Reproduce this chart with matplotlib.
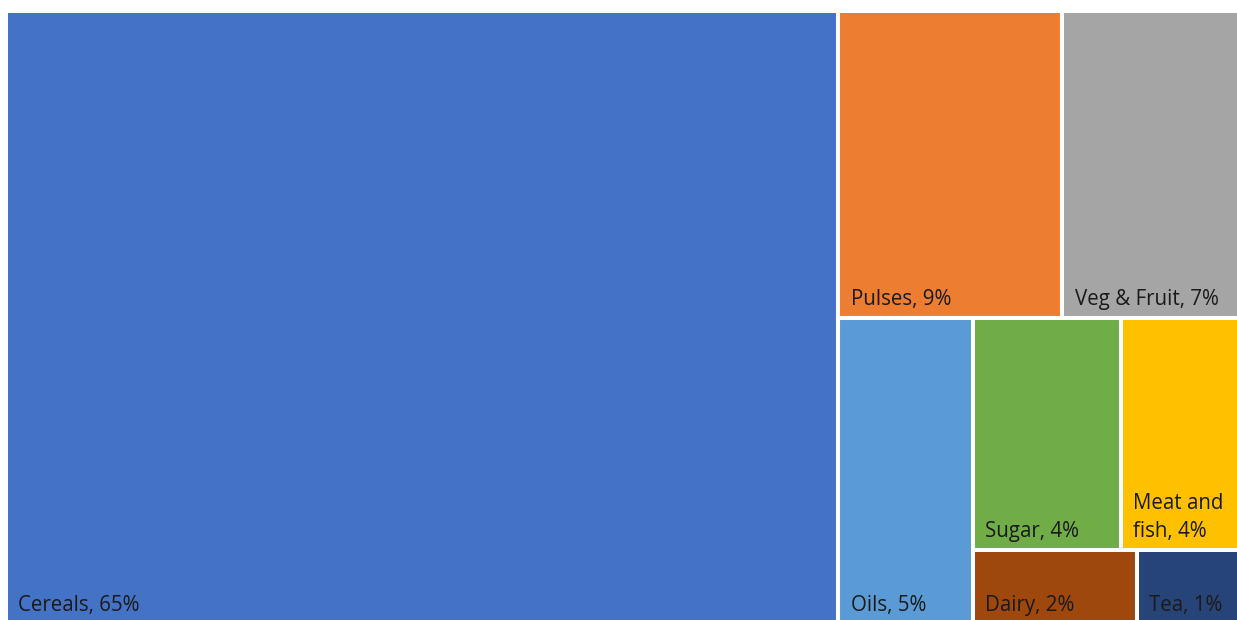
#!/usr/bin/env python3
import matplotlib
matplotlib.use('Agg')
import matplotlib.pyplot as plt
from matplotlib.patches import Rectangle

# Share of food spend (labels are rounded)
categories = ['Cereals', 'Pulses', 'Veg & Fruit', 'Oils', 'Sugar',
              'Meat and fish', 'Dairy', 'Tea']
values = [65.4, 8.8, 7.3, 5.3, 4.4, 3.8, 1.55, 1.05]
colors = ['#4472C4', '#ED7D31', '#A5A5A5', '#5B9BD5', '#70AD47',
          '#FFC000', '#9E480E', '#264478']
label_text = ['Cereals', 'Pulses', 'Veg & Fruit', 'Oils', 'Sugar',
              'Meat and\nfish', 'Dairy', 'Tea']

# slice layout: ('h'|'v', children), leaves are category indices
layout = ('h', [0, ('v', [('h', [1, 2]),
                          ('h', [3, ('v', [('h', [4, 5]),
                                           ('h', [6, 7])])])])])


def total(node):
    if isinstance(node, int):
        return values[node]
    return sum(total(c) for c in node[1])


def place(node, x, y, w, h, out):
    """Split the rect (x, y = top-left, y going down) among children."""
    if isinstance(node, int):
        out[node] = (x, y, w, h)
        return
    direction, children = node
    s = total(node)
    for c in children:
        f = total(c) / s
        if direction == 'h':
            place(c, x, y, w * f, h, out)
            x += w * f
        else:
            place(c, x, y, w, h * f, out)
            y += h * f


rects = {}
place(layout, 0.0, 0.0, 1.0, 1.0, rects)

W, H = 1237, 620
fig = plt.figure(figsize=(W / 100, H / 100), dpi=100)
# treemap area runs a bit past the right and bottom edges (cropped)
ax = fig.add_axes([6 / W, -4 / H, 1242 / W, 613 / H])
ax.set_xlim(0, 1)
ax.set_ylim(1, 0)
ax.axis('off')

for i, name in enumerate(categories):
    x, y, w, h = rects[i]
    ax.add_patch(Rectangle((x, y), w, h, facecolor=colors[i],
                           edgecolor='white', linewidth=2.9))
    ax.annotate(f'{label_text[i]}, {values[i]:.0f}%', xy=(x, y + h),
                xytext=(8.9, 5.6), textcoords='offset points',
                ha='left', va='bottom', fontsize=14.8, color='#1a1a1a',
                family='Open Sans', linespacing=1.48)

fig.savefig('out.png', dpi=100)
